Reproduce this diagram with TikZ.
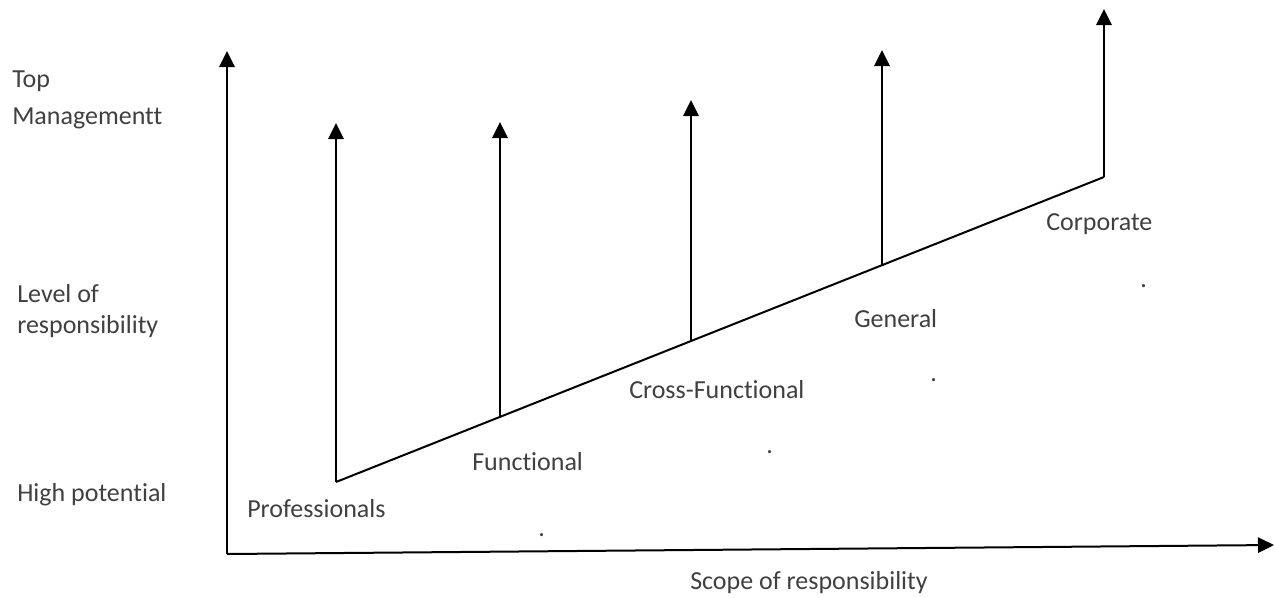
\documentclass[tikz,border=0pt]{standalone}
\usepackage{fontspec}
\setmainfont[Ligatures={NoCommon}]{Carlito}
\usetikzlibrary{arrows.meta}
\definecolor{txt}{HTML}{404040}
\begin{document}
\begin{tikzpicture}[x=0.75pt,y=-0.75pt,
  lbl/.style={anchor=base west,inner sep=0pt,text=txt,font=\fontsize{19.5}{23}\selectfont},
  ln/.style={line width=1.5pt,black},
  arr/.style={ln,-{Triangle[width=11.5pt,length=12pt]}}]
\useasboundingbox (0,0) rectangle (1275,597);
% axes
\coordinate (O) at (227,554);
\coordinate (Ytop) at (227,51);
\coordinate (Xend) at (1274,545);
\draw[arr] (O) -- (Ytop);
\draw[arr] (O) -- (Xend);
% slanted base
\coordinate (b1) at (336,482);
\coordinate (b2) at (500,417);
\coordinate (b3) at (691,341);
\coordinate (b4) at (882,265);
\coordinate (b5) at (1104,177);
\draw[ln] (b1) -- (b5);
\coordinate (t1) at (336,123);
\coordinate (t2) at (500,122);
\coordinate (t3) at (691,100);
\coordinate (t4) at (882,50);
\coordinate (t5) at (1104,9);
\draw[arr] (b1) -- (t1);
\draw[arr] (b2) -- (t2);
\draw[arr] (b3) -- (t3);
\draw[arr] (b4) -- (t4);
\draw[arr] (b5) -- (t5);
% left labels
\node[lbl] (top) at (12,87) {Top};
\node[lbl] (mgmt) at (12,124) {Managementt};
\node[lbl] (lvl) at (17,302) {Level of};
\node[lbl] (resp) at (17,333) {responsibility};
\node[lbl] (high) at (17,501) {High potential};
% stage labels
\node[lbl] (prof) at (247,517) {Professionals};
\node[lbl] (func) at (472,470) {Functional};
\node[lbl] (cross) at (629,398) {Cross-Functional};
\node[lbl] (gen) at (854,327) {General};
\node[lbl] (corp) at (1046,230) {Corporate};
\node[lbl] (scope) at (690,589) {Scope of responsibility};
% dots
\node[lbl] (d1) at (538,536) {.};
\node[lbl] (d2) at (766,453) {.};
\node[lbl] (d3) at (930,381) {.};
\node[lbl] (d4) at (1140,287) {.};
\end{tikzpicture}
\end{document}
